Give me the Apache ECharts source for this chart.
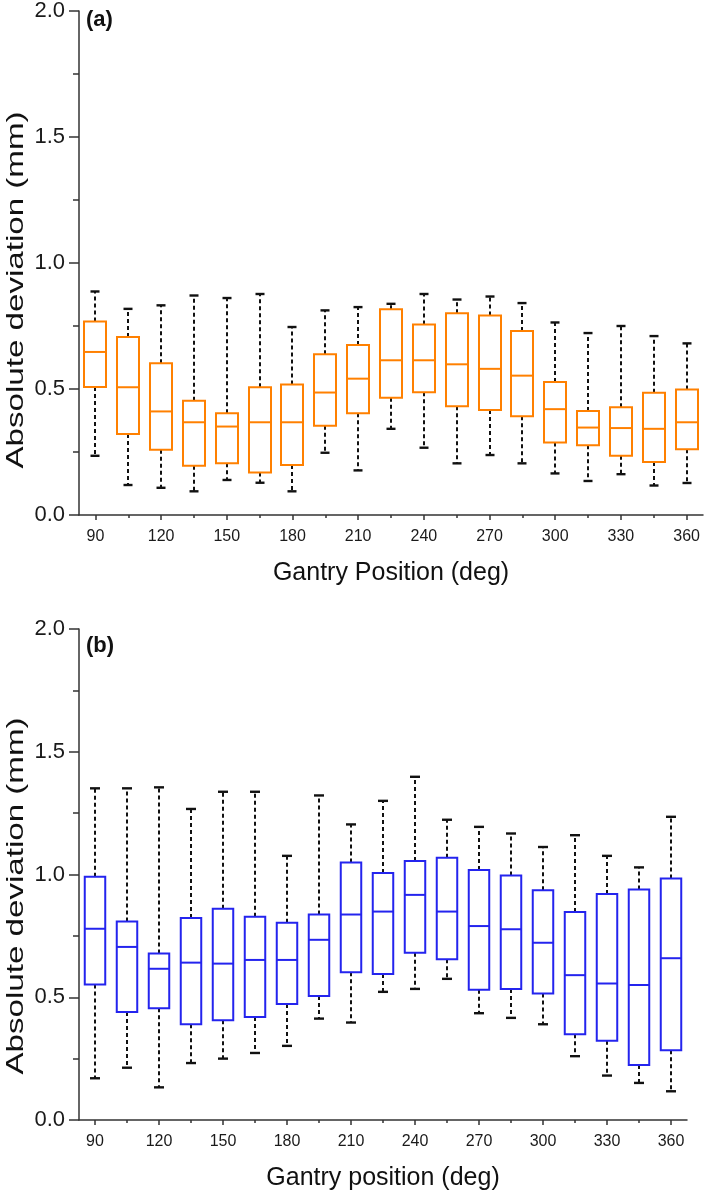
<!DOCTYPE html>
<html>
<head>
<meta charset="utf-8">
<script src="https://cdn.jsdelivr.net/npm/echarts@6/dist/echarts.min.js"></script>
<style>
  html, body { margin: 0; padding: 0; background: #fff; }
  #chart { width: 709px; height: 1192px; }
</style>
</head>
<body>
<div id="chart"></div>
<script>
// Categories (gantry angle, deg)
const categories = ['90','105','120','135','150','165','180','195','210','225','240','255','270','285','300','315','330','345','360'];

// Panel (a) box statistics (mm)
const aMin = [0.235,0.119,0.108,0.094,0.139,0.128,0.094,0.247,0.177,0.342,0.267,0.205,0.238,0.205,0.165,0.135,0.162,0.117,0.127];
const aQ1  = [0.508,0.321,0.259,0.195,0.205,0.169,0.198,0.354,0.404,0.465,0.487,0.432,0.417,0.392,0.288,0.277,0.235,0.210,0.261];
const aMed = [0.647,0.507,0.411,0.368,0.351,0.368,0.368,0.486,0.541,0.614,0.614,0.598,0.580,0.553,0.420,0.347,0.345,0.342,0.368];
const aQ3  = [0.768,0.706,0.602,0.453,0.404,0.507,0.518,0.638,0.675,0.816,0.756,0.801,0.792,0.730,0.528,0.413,0.428,0.485,0.498];
const aMax = [0.887,0.818,0.832,0.871,0.861,0.877,0.746,0.812,0.825,0.838,0.877,0.855,0.867,0.841,0.764,0.722,0.750,0.710,0.681];

// Panel (b) box statistics (mm)
const bMin = [0.170,0.213,0.133,0.232,0.250,0.273,0.302,0.413,0.397,0.522,0.534,0.575,0.435,0.416,0.390,0.260,0.181,0.151,0.117];
const bQ1  = [0.552,0.440,0.455,0.390,0.406,0.420,0.472,0.505,0.602,0.595,0.681,0.655,0.531,0.534,0.515,0.349,0.323,0.224,0.284];
const bMed = [0.779,0.705,0.616,0.641,0.637,0.652,0.652,0.734,0.837,0.849,0.917,0.849,0.790,0.777,0.722,0.590,0.556,0.550,0.659];
const bQ3  = [0.991,0.809,0.678,0.823,0.860,0.828,0.803,0.837,1.049,1.006,1.055,1.068,1.018,0.996,0.936,0.847,0.921,0.939,0.984];
const bMax = [1.351,1.351,1.355,1.267,1.337,1.337,1.076,1.322,1.204,1.300,1.398,1.223,1.194,1.167,1.112,1.160,1.076,1.029,1.235];

// Y tick values
const yTicks = [0, 0.5, 1.0, 1.5, 2.0];

const FONT = 'Arial, "Liberation Sans", sans-serif';

function buildData(mn, q1, md, q3, mx) {
  return categories.map((c, i) => [i, mn[i], q1[i], md[i], q3[i], mx[i]]);
}

function makeRender(color, boxRatio, capW) {
  return function (params, api) {
    const i = api.value(0);
    const lo = api.coord([i, api.value(1)]);
    const q1 = api.coord([i, api.value(2)]);
    const md = api.coord([i, api.value(3)]);
    const q3 = api.coord([i, api.value(4)]);
    const hi = api.coord([i, api.value(5)]);
    const band = api.size([1, 0])[0];
    const bw = band * boxRatio;
    const x = Math.round(lo[0]);
    const wStyle = { stroke: '#111', lineWidth: 2, lineDash: [4, 3] };
    const cStyle = { stroke: '#111', lineWidth: 2.4 };
    return {
      type: 'group',
      children: [
        { type: 'line', shape: { x1: x, y1: q3[1], x2: x, y2: hi[1] }, style: wStyle },
        { type: 'line', shape: { x1: x, y1: q1[1], x2: x, y2: lo[1] }, style: wStyle },
        { type: 'line', shape: { x1: x - capW / 2, y1: hi[1], x2: x + capW / 2, y2: hi[1] }, style: cStyle },
        { type: 'line', shape: { x1: x - capW / 2, y1: lo[1], x2: x + capW / 2, y2: lo[1] }, style: cStyle },
        { type: 'rect', shape: { x: x - bw / 2, y: q3[1], width: bw, height: q1[1] - q3[1] },
          style: { fill: '#fff', stroke: color, lineWidth: 2 } },
        { type: 'line', shape: { x1: x - bw / 2, y1: md[1], x2: x + bw / 2, y2: md[1] },
          style: { stroke: color, lineWidth: 2 } }
      ]
    };
  };
}

function yAxisCfg(gridIndex) {
  return {
    type: 'value', gridIndex: gridIndex, min: yTicks[0], max: yTicks[yTicks.length - 1], interval: 0.5,
    axisLine: { show: true, lineStyle: { color: '#333', width: 1.5 } },
    axisTick: { show: true, length: 10, lineStyle: { color: '#333', width: 1.5 } },
    minorTick: { show: true, splitNumber: 2, length: 6, lineStyle: { color: '#333', width: 1.5 } },
    axisLabel: { fontSize: 22, color: '#1a1a1a', fontFamily: FONT, margin: 14, formatter: v => v.toFixed(1) },
    splitLine: { show: false }
  };
}

function xAxisMain(gridIndex, name) {
  return {
    type: 'category', gridIndex: gridIndex, data: categories, boundaryGap: true,
    name: name, nameLocation: 'middle', nameGap: 46,
    nameTextStyle: { fontSize: 25, color: '#111', fontFamily: FONT },
    axisLine: { show: true, lineStyle: { color: '#333', width: 1.5 } },
    axisTick: { show: true, alignWithLabel: true, interval: 1, length: 5, lineStyle: { color: '#333', width: 1.5 } },
    axisLabel: { interval: 1, fontSize: 16, color: '#1a1a1a', fontFamily: FONT, margin: 14 },
    splitLine: { show: false }
  };
}

function xAxisMinor(gridIndex) {
  return {
    type: 'category', gridIndex: gridIndex, data: categories, boundaryGap: true, position: 'bottom',
    axisLine: { show: false },
    axisTick: { show: true, alignWithLabel: true, interval: (idx) => idx % 2 === 1, length: 3,
      lineStyle: { color: '#333', width: 1.5 } },
    axisLabel: { show: false },
    splitLine: { show: false }
  };
}

const chart = echarts.init(document.getElementById('chart'), null, { renderer: 'canvas' });

chart.setOption({
  backgroundColor: '#fff',
  animation: false,
  grid: [
    { left: 79, right: 6, top: 10, bottom: 677 },
    { left: 79, right: 22, top: 629, bottom: 72 }
  ],
  xAxis: [
    xAxisMain(0, 'Gantry Position (deg)'),
    xAxisMinor(0),
    xAxisMain(1, 'Gantry position (deg)'),
    xAxisMinor(1)
  ],
  yAxis: [yAxisCfg(0), yAxisCfg(1)],
  graphic: [
    { type: 'text', x: 16, y: 290, rotation: Math.PI / 2, scaleX: 1.38, scaleY: 1,
      style: { text: 'Absolute deviation (mm)', font: '24px ' + FONT, fill: '#111', align: 'center', verticalAlign: 'middle' } },
    { type: 'text', x: 16, y: 896, rotation: Math.PI / 2, scaleX: 1.38, scaleY: 1,
      style: { text: 'Absolute deviation (mm)', font: '24px ' + FONT, fill: '#111', align: 'center', verticalAlign: 'middle' } },
    { type: 'text', x: 86, y: 20,
      style: { text: '(a)', font: 'bold 22px ' + FONT, fill: '#111', align: 'left', verticalAlign: 'middle' } },
    { type: 'text', x: 86, y: 646,
      style: { text: '(b)', font: 'bold 22px ' + FONT, fill: '#111', align: 'left', verticalAlign: 'middle' } }
  ],
  series: [
    {
      type: 'custom', xAxisIndex: 0, yAxisIndex: 0,
      renderItem: makeRender('#FF8000', 0.67, 9),
      encode: { x: 0, y: [1, 2, 3, 4, 5] },
      data: buildData(aMin, aQ1, aMed, aQ3, aMax)
    },
    {
      type: 'custom', xAxisIndex: 2, yAxisIndex: 1,
      renderItem: makeRender('#2424EE', 0.64, 10),
      encode: { x: 0, y: [1, 2, 3, 4, 5] },
      data: buildData(bMin, bQ1, bMed, bQ3, bMax)
    }
  ]
});
</script>
</body>
</html>
